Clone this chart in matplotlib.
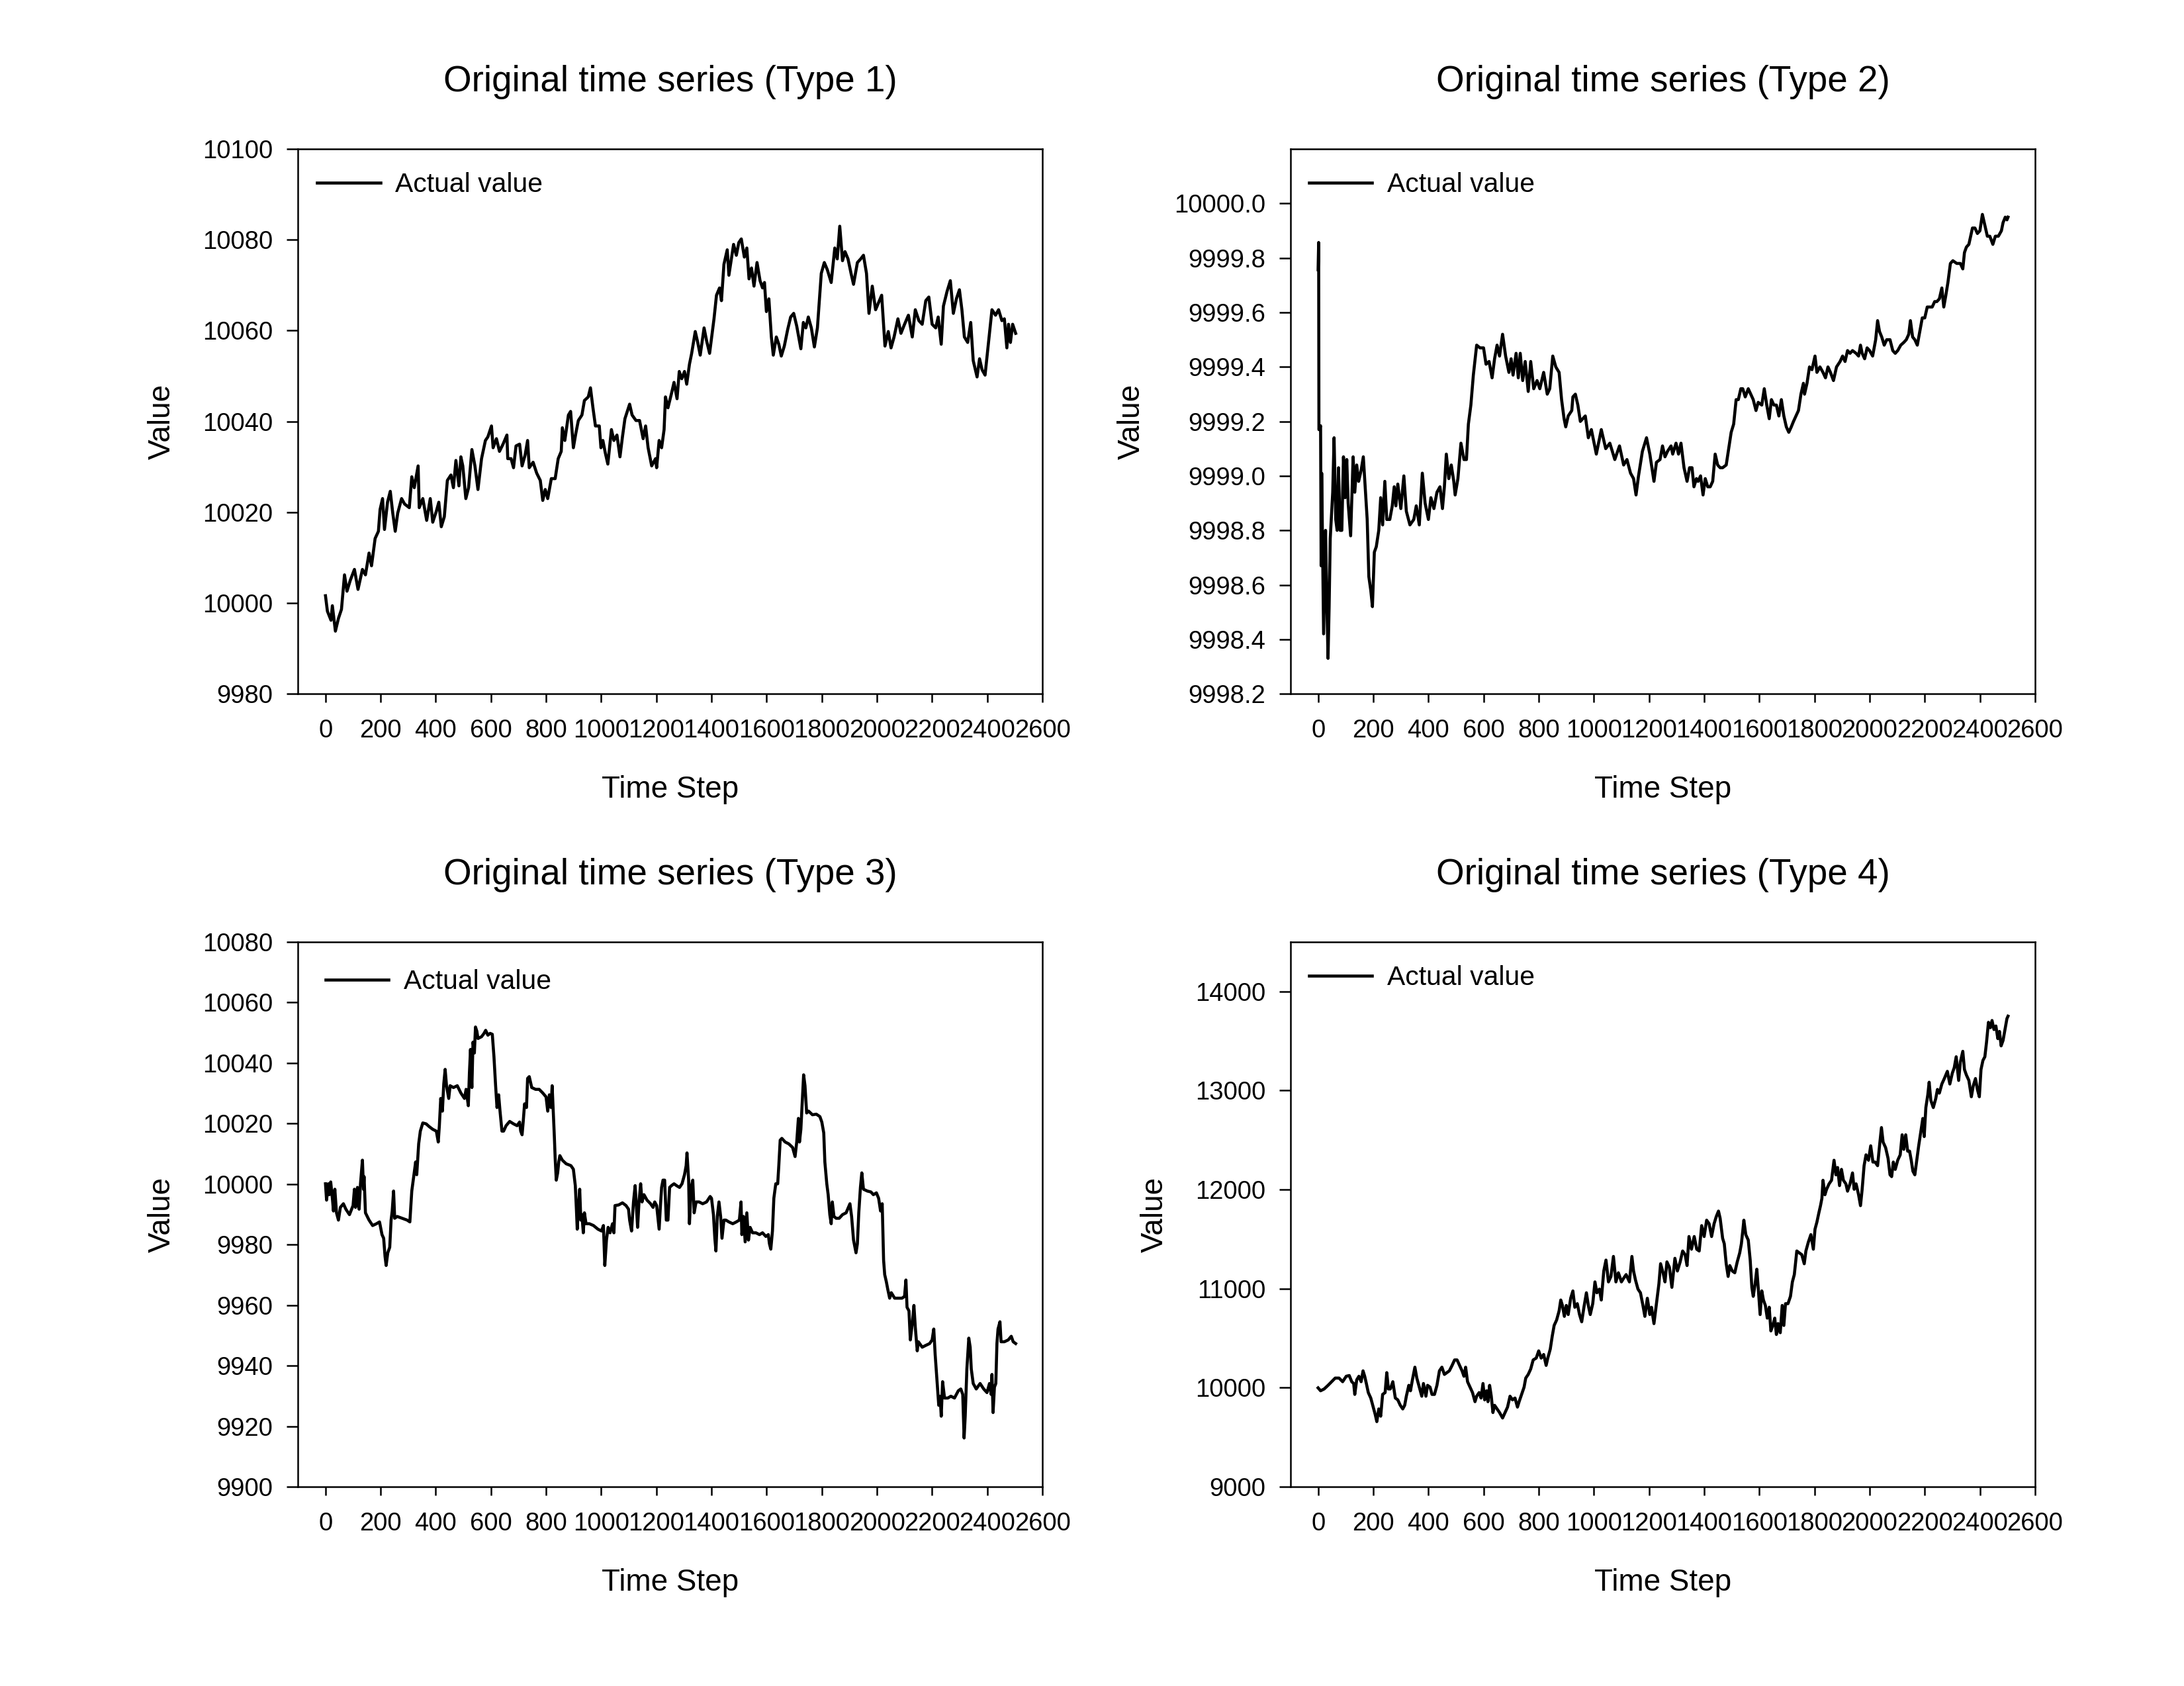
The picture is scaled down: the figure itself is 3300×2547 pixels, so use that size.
import matplotlib
matplotlib.use('Agg')
import matplotlib.pyplot as plt
import numpy as np
from matplotlib.ticker import FormatStrFormatter

plt.rcParams['font.family'] = ['Liberation Sans', 'DejaVu Sans']

# (time step, value)
type1 = [(0, 10001.6), (7, 9998.2), (20, 9996.2), (25, 9999.4), (36, 9993.8), (47, 9996.6), (58, 9998.6),
         (69, 10006.2), (78, 10002.6), (90, 10005.0), (105, 10007.4), (118, 10003.0), (134, 10007.4),
         (145, 10006.2), (158, 10011.0), (167, 10008.2), (180, 10014.2), (192, 10015.8), (198, 10020.6),
         (207, 10023.0), (214, 10016.2), (225, 10022.2), (235, 10024.6), (244, 10019.8), (253, 10015.8),
         (262, 10019.8), (276, 10023.0), (287, 10021.8), (304, 10021.0), (313, 10027.8), (322, 10025.4),
         (336, 10030.2), (340, 10021.0), (353, 10023.0), (367, 10018.2), (380, 10023.0), (389, 10017.8),
         (402, 10020.2), (411, 10022.2), (420, 10016.8), (431, 10019.0), (442, 10027.0), (455, 10028.2),
         (464, 10025.4), (473, 10031.4), (484, 10025.8), (491, 10032.2), (498, 10030.2), (509, 10023.0),
         (519, 10025.4), (531, 10033.8), (542, 10030.2), (553, 10025.0), (566, 10031.8), (580, 10035.8),
         (589, 10036.6), (602, 10039.0), (608, 10034.2), (620, 10036.2), (631, 10033.4), (644, 10035.0),
         (658, 10037.0), (661, 10031.8), (673, 10031.8), (682, 10029.8), (691, 10034.6), (704, 10035.0),
         (713, 10030.2), (724, 10032.6), (733, 10035.8), (739, 10029.8), (753, 10031.0), (766, 10028.6),
         (779, 10027.0), (788, 10022.6), (797, 10025.0), (806, 10023.0), (819, 10027.4), (833, 10027.4),
         (844, 10031.8), (855, 10033.4), (859, 10038.6), (868, 10035.8), (881, 10041.4), (889, 10042.2),
         (899, 10034.2), (908, 10037.4), (917, 10040.2), (930, 10041.4), (939, 10044.6), (953, 10045.4),
         (961, 10047.4), (970, 10043.0), (979, 10039.0), (993, 10039.0), (999, 10034.2), (1006, 10035.8),
         (1015, 10033.0), (1024, 10030.6), (1037, 10038.2), (1046, 10035.8), (1057, 10037.0), (1068, 10032.2),
         (1077, 10036.6), (1086, 10040.6), (1103, 10043.8), (1112, 10041.4), (1126, 10040.2), (1139, 10040.2),
         (1152, 10036.2), (1161, 10039.0), (1170, 10034.2), (1183, 10030.2), (1197, 10031.8), (1201, 10029.8),
         (1210, 10035.8), (1219, 10034.2), (1228, 10038.2), (1233, 10045.4), (1242, 10043.0), (1255, 10046.2),
         (1264, 10048.6), (1275, 10045.0), (1283, 10051.0), (1292, 10049.4), (1302, 10051.0), (1310, 10048.2),
         (1320, 10052.6), (1328, 10055.0), (1341, 10059.8), (1350, 10057.4), (1359, 10054.6), (1373, 10060.6),
         (1382, 10057.8), (1393, 10055.0), (1409, 10062.6), (1418, 10067.8), (1429, 10069.4), (1436, 10066.6),
         (1445, 10074.6), (1457, 10077.8), (1463, 10072.2), (1471, 10075.4), (1480, 10079.0), (1490, 10076.6),
         (1499, 10079.4), (1508, 10080.2), (1519, 10076.2), (1528, 10078.2), (1536, 10071.4), (1545, 10073.8),
         (1554, 10069.8), (1565, 10075.0), (1576, 10071.0), (1585, 10069.4), (1592, 10070.6), (1599, 10064.2),
         (1608, 10067.0), (1617, 10058.6), (1624, 10054.6), (1635, 10058.6), (1644, 10057.0), (1653, 10054.4),
         (1664, 10056.6), (1676, 10060.2), (1687, 10063.0), (1698, 10063.8), (1709, 10061.0), (1724, 10056.0),
         (1733, 10061.8), (1742, 10060.6), (1751, 10063.0), (1762, 10060.6), (1773, 10056.4), (1784, 10060.6),
         (1798, 10072.6), (1809, 10075.0), (1820, 10073.4), (1834, 10070.6), (1847, 10078.2), (1856, 10075.8),
         (1865, 10083.0), (1875, 10075.4), (1884, 10077.4), (1895, 10075.8), (1906, 10072.6), (1915, 10070.2),
         (1929, 10075.0), (1941, 10075.8), (1951, 10076.6), (1962, 10072.6), (1971, 10063.8), (1983, 10069.8),
         (1995, 10064.6), (2006, 10066.2), (2017, 10067.8), (2029, 10056.6), (2041, 10059.8), (2051, 10056.2),
         (2062, 10058.6), (2076, 10062.6), (2087, 10059.4), (2100, 10061.4), (2114, 10063.4), (2128, 10058.6),
         (2139, 10064.6), (2152, 10062.2), (2164, 10061.4), (2177, 10066.6), (2188, 10067.4), (2200, 10061.4),
         (2213, 10060.6), (2222, 10063.0), (2233, 10057.0), (2241, 10065.4), (2254, 10068.6), (2266, 10071.0),
         (2277, 10063.8), (2288, 10067.0), (2299, 10069.0), (2308, 10064.6), (2317, 10058.6), (2329, 10057.4),
         (2340, 10061.8), (2349, 10053.4), (2363, 10049.8), (2372, 10053.8), (2381, 10051.4), (2392, 10050.2),
         (2403, 10056.6), (2417, 10064.6), (2430, 10063.4), (2441, 10064.6), (2453, 10062.2), (2462, 10062.6),
         (2471, 10056.2), (2477, 10061.4), (2484, 10057.4), (2492, 10061.4), (2503, 10059.4)]

type2 = [(0, 9999.757), (2, 9999.857), (3, 9999.17), (9, 9999.184), (11, 9998.67), (13, 9999.01), (20, 9998.42),
         (27, 9998.80), (31, 9998.57), (36, 9998.33), (40, 9998.52), (44, 9998.77), (53, 9998.94), (58, 9999.14),
         (64, 9998.84), (69, 9998.80), (74, 9999.03), (80, 9998.80), (86, 9998.80), (92, 9999.07), (98, 9998.92),
         (104, 9999.06), (109, 9998.90), (118, 9998.78), (127, 9999.07), (133, 9998.94), (140, 9999.04),
         (147, 9998.98), (156, 9999.02), (164, 9999.07), (172, 9998.94), (178, 9998.84), (184, 9998.63),
         (191, 9998.58), (197, 9998.52), (204, 9998.72), (211, 9998.74), (220, 9998.80), (227, 9998.92),
         (234, 9998.82), (242, 9998.98), (249, 9998.84), (260, 9998.84), (269, 9998.89), (276, 9998.96),
         (282, 9998.89), (289, 9998.97), (300, 9998.88), (311, 9999.00), (320, 9998.87), (333, 9998.82),
         (347, 9998.84), (356, 9998.89), (367, 9998.82), (378, 9999.01), (388, 9998.90), (400, 9998.84),
         (409, 9998.92), (420, 9998.88), (431, 9998.94), (442, 9998.96), (451, 9998.88), (458, 9998.96),
         (465, 9999.08), (474, 9998.99), (483, 9999.04), (492, 9998.98), (497, 9998.93), (507, 9998.99),
         (518, 9999.12), (529, 9999.06), (538, 9999.06), (545, 9999.19), (554, 9999.26), (563, 9999.37),
         (575, 9999.48), (587, 9999.47), (600, 9999.47), (609, 9999.41), (620, 9999.42), (631, 9999.36),
         (640, 9999.43), (649, 9999.48), (658, 9999.44), (669, 9999.52), (680, 9999.44), (692, 9999.38),
         (700, 9999.43), (707, 9999.37), (718, 9999.45), (726, 9999.36), (733, 9999.45), (742, 9999.35),
         (751, 9999.42), (762, 9999.31), (771, 9999.42), (782, 9999.32), (794, 9999.35), (804, 9999.32),
         (818, 9999.38), (831, 9999.30), (840, 9999.32), (851, 9999.44), (862, 9999.40), (874, 9999.38),
         (883, 9999.28), (892, 9999.21), (898, 9999.18), (907, 9999.22), (920, 9999.24), (924, 9999.29),
         (933, 9999.30), (942, 9999.26), (951, 9999.20), (969, 9999.22), (980, 9999.14), (991, 9999.17),
         (1009, 9999.08), (1027, 9999.17), (1043, 9999.10), (1058, 9999.12), (1076, 9999.06), (1093, 9999.11),
         (1108, 9999.04), (1120, 9999.06), (1133, 9999.01), (1144, 9998.99), (1153, 9998.93), (1162, 9999.00),
         (1176, 9999.09), (1191, 9999.14), (1203, 9999.08), (1218, 9998.98), (1227, 9999.05), (1240, 9999.06),
         (1249, 9999.11), (1258, 9999.07), (1267, 9999.09), (1280, 9999.11), (1286, 9999.08), (1298, 9999.12),
         (1307, 9999.08), (1316, 9999.12), (1327, 9999.03), (1338, 9998.98), (1347, 9999.03), (1356, 9999.03),
         (1363, 9998.96), (1372, 9998.99), (1378, 9998.98), (1387, 9999.00), (1396, 9998.93), (1404, 9998.99),
         (1413, 9998.96), (1422, 9998.96), (1431, 9998.98), (1440, 9999.08), (1449, 9999.04), (1458, 9999.03),
         (1467, 9999.03), (1480, 9999.04), (1489, 9999.10), (1498, 9999.16), (1507, 9999.19), (1516, 9999.28),
         (1524, 9999.28), (1533, 9999.32), (1540, 9999.32), (1549, 9999.29), (1560, 9999.32), (1569, 9999.30),
         (1578, 9999.28), (1588, 9999.24), (1596, 9999.27), (1609, 9999.26), (1618, 9999.32), (1627, 9999.26),
         (1636, 9999.21), (1644, 9999.28), (1653, 9999.26), (1662, 9999.26), (1671, 9999.22), (1680, 9999.28),
         (1689, 9999.22), (1698, 9999.18), (1707, 9999.16), (1716, 9999.18), (1724, 9999.20), (1733, 9999.22),
         (1742, 9999.24), (1751, 9999.30), (1760, 9999.34), (1764, 9999.30), (1773, 9999.34), (1782, 9999.40),
         (1791, 9999.39), (1802, 9999.44), (1809, 9999.38), (1820, 9999.40), (1831, 9999.38), (1840, 9999.36),
         (1849, 9999.40), (1858, 9999.38), (1869, 9999.35), (1880, 9999.40), (1893, 9999.42), (1902, 9999.44),
         (1911, 9999.42), (1920, 9999.46), (1929, 9999.45), (1938, 9999.46), (1951, 9999.45), (1960, 9999.44),
         (1967, 9999.48), (1973, 9999.45), (1982, 9999.43), (1991, 9999.47), (2000, 9999.46), (2011, 9999.44),
         (2022, 9999.50), (2029, 9999.57), (2036, 9999.53), (2044, 9999.51), (2053, 9999.48), (2062, 9999.50),
         (2074, 9999.50), (2084, 9999.46), (2093, 9999.45), (2102, 9999.46), (2113, 9999.48), (2124, 9999.49),
         (2133, 9999.50), (2142, 9999.52), (2148, 9999.57), (2156, 9999.51), (2164, 9999.50), (2173, 9999.48),
         (2182, 9999.53), (2191, 9999.58), (2200, 9999.58), (2209, 9999.62), (2218, 9999.62), (2227, 9999.62),
         (2236, 9999.64), (2244, 9999.64), (2253, 9999.65), (2262, 9999.69), (2269, 9999.62), (2276, 9999.66),
         (2284, 9999.71), (2293, 9999.78), (2302, 9999.79), (2316, 9999.78), (2329, 9999.78), (2338, 9999.76),
         (2344, 9999.82), (2351, 9999.84), (2360, 9999.85), (2373, 9999.91), (2382, 9999.91), (2391, 9999.89),
         (2400, 9999.90), (2409, 9999.96), (2418, 9999.92), (2427, 9999.88), (2436, 9999.88), (2447, 9999.85),
         (2456, 9999.88), (2467, 9999.88), (2478, 9999.90), (2484, 9999.93), (2492, 9999.95), (2498, 9999.94),
         (2502, 9999.95)]

type3 = [(0, 10000.1), (4, 9994.7), (10, 10000.1), (14, 9996.5), (19, 10000.7), (25, 9995.3), (29, 9991.1),
         (34, 9998.3), (40, 9990.5), (47, 9988.1), (54, 9992.3), (65, 9993.5), (74, 9991.7), (87, 9989.9),
         (100, 9992.9), (105, 9998.3), (109, 9992.3), (116, 9998.9), (122, 9991.7), (127, 10000.1), (134, 10007.9),
         (138, 9998.3), (140, 10002.5), (145, 9990.5), (158, 9988.1), (171, 9986.3), (185, 9986.9), (196, 9987.5),
         (205, 9983.3), (211, 9982.1), (216, 9976.1), (220, 9973.1), (226, 9977.3), (233, 9979.1), (238, 9988.1),
         (242, 9991.1), (247, 9997.7), (251, 9988.7), (260, 9989.3), (278, 9988.7), (296, 9988.1), (306, 9987.5),
         (313, 9997.7), (320, 10002.5), (327, 10007.3), (331, 10003.1), (338, 10013.3), (344, 10017.5),
         (353, 10020.2), (365, 10019.9), (376, 10019.0), (389, 10018.1), (402, 10017.5), (409, 10013.9),
         (413, 10019.3), (418, 10028.3), (424, 10024.1), (429, 10033.1), (434, 10037.9), (439, 10032.5),
         (447, 10028.3), (452, 10032.5), (464, 10031.9), (478, 10032.5), (491, 10030.1), (504, 10028.3),
         (510, 10031.3), (518, 10025.9), (522, 10036.7), (526, 10044.5), (531, 10031.9), (535, 10046.9),
         (540, 10043.3), (544, 10051.9), (549, 10050.5), (553, 10048.1), (566, 10048.7), (575, 10049.8),
         (581, 10050.8), (589, 10049.2), (597, 10049.8), (605, 10049.5), (611, 10042.1), (617, 10032.5),
         (622, 10025.3), (628, 10029.5), (633, 10024.1), (640, 10017.5), (646, 10017.5), (655, 10019.3),
         (668, 10020.7), (682, 10019.9), (695, 10019.3), (704, 10020.5), (708, 10017.5), (713, 10016.3),
         (717, 10020.5), (722, 10026.5), (729, 10025.3), (733, 10034.9), (739, 10035.5), (748, 10031.9),
         (762, 10031.3), (775, 10031.3), (788, 10030.1), (800, 10028.8), (806, 10024.1), (812, 10029.5),
         (818, 10025.3), (822, 10032.5), (826, 10024.1), (830, 10015.7), (833, 10008.5), (837, 10001.3),
         (842, 10003.7), (846, 10007.3), (850, 10009.4), (859, 10007.9), (873, 10006.7), (890, 10006.1),
         (899, 10004.9), (906, 9999.5), (910, 9991.7), (913, 9985.1), (917, 9991.7), (922, 9998.3), (926, 9988.1),
         (930, 9989.9), (935, 9983.9), (939, 9990.5), (945, 9986.9), (957, 9986.9), (972, 9986.3), (988, 9985.1),
         (1001, 9984.5), (1008, 9986.3), (1013, 9973.1), (1019, 9981.5), (1025, 9985.7), (1032, 9983.9),
         (1041, 9986.9), (1046, 9983.9), (1050, 9992.9), (1063, 9993.1), (1077, 9993.8), (1090, 9992.9),
         (1099, 9991.7), (1103, 9988.1), (1110, 9984.5), (1117, 9994.1), (1123, 9999.5), (1128, 9991.7),
         (1132, 9985.7), (1137, 9994.1), (1143, 10000.1), (1148, 9994.1), (1155, 9996.5), (1166, 9994.7),
         (1179, 9993.5), (1188, 9992.3), (1194, 9994.1), (1201, 9992.9), (1210, 9985.1), (1214, 9991.7),
         (1219, 9998.9), (1224, 10001.3), (1230, 10001.3), (1236, 9988.1), (1242, 9988.1), (1248, 9998.9),
         (1255, 9999.5), (1264, 10000.1), (1273, 9999.5), (1284, 9998.9), (1293, 10000.1), (1302, 10003.1),
         (1308, 10006.1), (1311, 10010.3), (1317, 10001.3), (1320, 9986.9), (1326, 9998.9), (1332, 10001.3),
         (1337, 9990.5), (1344, 9994.1), (1355, 9994.1), (1368, 9993.5), (1382, 9994.1), (1395, 9995.9),
         (1400, 9995.3), (1407, 9989.9), (1412, 9982.1), (1416, 9977.9), (1421, 9989.3), (1427, 9994.1),
         (1433, 9989.3), (1438, 9982.1), (1445, 9988.1), (1452, 9988.1), (1463, 9987.5), (1477, 9986.9),
         (1490, 9987.5), (1501, 9988.1), (1507, 9994.1), (1510, 9983.3), (1516, 9989.3), (1522, 9980.9),
         (1528, 9990.5), (1534, 9981.5), (1540, 9985.7), (1549, 9983.9), (1561, 9983.9), (1574, 9983.3),
         (1585, 9983.9), (1597, 9982.7), (1606, 9983.3), (1610, 9980.3), (1615, 9978.5), (1621, 9984.5),
         (1626, 9995.3), (1633, 10000.1), (1640, 10000.1), (1644, 10006.1), (1649, 10014.5), (1655, 10015.1),
         (1667, 10013.9), (1680, 10013.3), (1694, 10012.1), (1703, 10009.1), (1709, 10013.9), (1715, 10021.7),
         (1719, 10013.9), (1724, 10018.1), (1730, 10028.8), (1734, 10036.1), (1739, 10032.5), (1745, 10023.5),
         (1752, 10024.1), (1766, 10022.9), (1780, 10023.1), (1793, 10022.3), (1800, 10020.5), (1807, 10016.9),
         (1811, 10007.3), (1818, 10000.1), (1823, 9996.5), (1829, 9989.9), (1834, 9986.9), (1838, 9994.1),
         (1844, 9989.3), (1852, 9988.7), (1863, 9988.7), (1875, 9989.9), (1888, 9990.5), (1902, 9993.5),
         (1908, 9989.3), (1915, 9981.5), (1924, 9977.3), (1929, 9980.3), (1934, 9990.5), (1940, 9998.9),
         (1945, 10003.7), (1951, 9998.3), (1965, 9997.7), (1978, 9997.4), (1987, 9996.5), (1998, 9997.1),
         (2006, 9995.3), (2013, 9991.1), (2019, 9993.5), (2024, 9974.9), (2028, 9970.1), (2034, 9967.7),
         (2039, 9965.3), (2046, 9962.3), (2052, 9964.1), (2064, 9962.3), (2078, 9962.3), (2091, 9962.3),
         (2100, 9962.9), (2105, 9968.3), (2109, 9959.3), (2116, 9958.1), (2121, 9948.5), (2128, 9953.9),
         (2134, 9959.9), (2139, 9952.7), (2146, 9944.9), (2150, 9947.9), (2164, 9946.1), (2177, 9946.7),
         (2191, 9947.3), (2200, 9948.5), (2206, 9952.1), (2211, 9943.7), (2218, 9934.7), (2224, 9926.9),
         (2229, 9929.9), (2233, 9923.3), (2238, 9934.7), (2245, 9929.3), (2257, 9929.3), (2268, 9929.9),
         (2281, 9929.3), (2295, 9931.7), (2304, 9932.3), (2311, 9930.5), (2316, 9916.1), (2320, 9923.3),
         (2326, 9938.9), (2333, 9949.1), (2338, 9946.1), (2342, 9938.9), (2349, 9934.1), (2360, 9932.3),
         (2374, 9934.1), (2387, 9932.3), (2399, 9931.1), (2408, 9934.1), (2414, 9930.5), (2417, 9937.1),
         (2421, 9924.5), (2426, 9932.9), (2431, 9934.1), (2435, 9947.3), (2439, 9952.1), (2446, 9954.5),
         (2450, 9947.9), (2462, 9947.9), (2476, 9948.5), (2487, 9949.7), (2494, 9947.9), (2503, 9947.3)]

type4 = [(0, 9998), (9, 9968.6), (22, 9987), (36, 10023.5), (49, 10060), (62, 10096.9), (76, 10096.9), (89, 10060),
         (102, 10115.2), (113, 10122.5), (122, 10060), (129, 10042), (133, 9932), (140, 10078.5), (148, 10115.2),
         (156, 10060), (163, 10170), (169, 10115.2), (175, 10042), (182, 9950.4), (191, 9895.4), (200, 9803.8),
         (207, 9730.5), (213, 9657.2), (220, 9785.4), (227, 9712.1), (234, 9932), (243, 9950.4), (249, 10151.9),
         (255, 9987), (262, 9987), (271, 10060), (280, 9895.4), (289, 9877), (298, 9822), (307, 9785.4),
         (314, 9822), (320, 9913.7), (329, 10023.5), (335, 9968.6), (342, 10078.5), (351, 10206.7),
         (358, 10096.9), (367, 10005.3), (376, 9913.7), (382, 10042), (391, 9913.7), (397, 10023.5),
         (406, 10005.3), (413, 9932), (422, 9932), (431, 10023.5), (440, 10170), (449, 10206.7), (458, 10133.6),
         (467, 10151.9), (476, 10170), (486, 10225), (495, 10280.1), (504, 10280.1), (513, 10225), (522, 10170),
         (529, 10115.2), (535, 10206.7), (542, 10060), (551, 10005.3), (560, 9950.4), (569, 9858.6),
         (575, 9913.7), (584, 9950.4), (591, 9895.4), (598, 10042), (604, 9877), (611, 9968.6), (616, 9858.6),
         (622, 10023.5), (628, 9913.7), (634, 9748.8), (640, 9822), (649, 9785.4), (658, 9748.8), (669, 9693.8),
         (678, 9748.8), (687, 9803.8), (696, 9913.7), (705, 9877), (714, 9895.4), (723, 9803.8), (729, 9858.6),
         (738, 9932), (747, 10005.3), (753, 10096.9), (762, 10133.6), (771, 10188.5), (780, 10280.1),
         (791, 10298.6), (800, 10371.6), (809, 10298.6), (818, 10335), (827, 10225), (833, 10298.6),
         (842, 10390.2), (849, 10518.4), (856, 10628.3), (865, 10683.3), (874, 10775), (880, 10885), (886, 10830),
         (893, 10720), (900, 10830), (907, 10738.4), (916, 10903), (924, 10976.5), (931, 10811.6), (940, 10848.3),
         (948, 10738.4), (956, 10665), (964, 10811.6), (973, 10958), (980, 10830), (987, 10738.4),
         (996, 10848.3), (1004, 11068), (1011, 10958), (1020, 10995), (1027, 10885), (1036, 11178), (1044, 11288),
         (1053, 11068), (1062, 11123), (1071, 11325), (1080, 11068), (1089, 11160), (1100, 11068), (1108, 11105),
         (1117, 11141.6), (1129, 11068), (1138, 11325), (1144, 11178), (1151, 11087), (1160, 10995),
         (1169, 10958), (1178, 10830), (1185, 10720), (1194, 10903), (1203, 10738.4), (1209, 10811.6),
         (1218, 10646.7), (1227, 10848.3), (1236, 11050), (1242, 11251.5), (1251, 11160), (1258, 11068),
         (1265, 11270), (1274, 11215), (1283, 11013), (1294, 11306), (1303, 11178), (1313, 11270), (1322, 11380),
         (1331, 11343), (1338, 11233), (1345, 11526), (1354, 11398), (1364, 11526), (1373, 11398), (1382, 11380),
         (1391, 11636), (1400, 11526), (1409, 11691), (1418, 11655), (1427, 11526), (1436, 11655), (1444, 11728),
         (1452, 11783), (1458, 11710), (1467, 11508), (1473, 11453), (1480, 11251), (1487, 11123), (1493, 11233),
         (1502, 11178), (1511, 11160), (1520, 11270), (1529, 11361), (1535, 11453), (1540, 11581), (1544, 11691),
         (1551, 11545), (1560, 11490), (1567, 11288), (1573, 11013), (1578, 10922), (1585, 11050), (1591, 11196),
         (1596, 11013), (1603, 10738), (1609, 10977), (1615, 10885), (1622, 10830), (1629, 10702), (1636, 10812),
         (1642, 10573), (1649, 10628), (1656, 10702), (1662, 10537), (1668, 10647), (1676, 10555), (1683, 10830),
         (1689, 10628), (1695, 10848), (1704, 10848), (1713, 10922), (1720, 11068), (1727, 11142), (1736, 11380),
         (1745, 11361), (1754, 11343), (1763, 11251), (1769, 11380), (1778, 11471), (1787, 11545), (1796, 11398),
         (1802, 11600), (1809, 11673), (1816, 11765), (1822, 11838), (1827, 11911), (1831, 12094), (1838, 11948),
         (1844, 12003), (1853, 12058), (1862, 12094), (1871, 12296), (1878, 12149), (1884, 12223), (1891, 12040),
         (1898, 12204), (1905, 12094), (1914, 12058), (1920, 11984), (1929, 12058), (1938, 12168), (1944, 12003),
         (1951, 12058), (1960, 11948), (1967, 11838), (1973, 12003), (1980, 12241), (1987, 12351), (1996, 12296),
         (2004, 12442), (2012, 12278), (2020, 12278), (2029, 12241), (2036, 12442), (2043, 12626), (2049, 12479),
         (2058, 12424), (2067, 12315), (2074, 12150), (2080, 12131), (2086, 12278), (2093, 12204), (2102, 12296),
         (2111, 12351), (2118, 12553), (2124, 12406), (2131, 12553), (2138, 12388), (2145, 12388), (2151, 12296),
         (2157, 12186), (2164, 12149), (2172, 12315), (2178, 12442), (2187, 12608), (2193, 12718), (2198, 12535),
         (2204, 12828), (2211, 12956), (2216, 13084), (2222, 12901), (2231, 12828), (2240, 12920), (2246, 13011),
         (2253, 12974), (2262, 13066), (2271, 13121), (2282, 13194), (2291, 13066), (2300, 13176), (2307, 13231),
         (2314, 13341), (2323, 13102), (2329, 13286), (2338, 13396), (2344, 13212), (2351, 13157), (2360, 13102),
         (2369, 12937), (2376, 13048), (2384, 13121), (2391, 13011), (2398, 12937), (2404, 13212), (2411, 13304),
         (2418, 13341), (2424, 13487), (2431, 13689), (2438, 13634), (2444, 13707), (2451, 13616), (2458, 13652),
         (2465, 13524), (2471, 13597), (2477, 13451), (2484, 13506), (2491, 13616), (2498, 13726), (2502, 13751)]

series = [type1, type2, type3, type4]
titles = ['Original time series (Type 1)', 'Original time series (Type 2)',
          'Original time series (Type 3)', 'Original time series (Type 4)']
ylims = [(9980, 10100), (9998.2, 10000.2), (9900, 10080), (9000, 14500)]
yticks = [np.arange(9980, 10101, 20), np.arange(9998.2, 10000.05, 0.2),
          np.arange(9900, 10081, 20), np.arange(9000, 14001, 1000)]
xticks = np.arange(0, 2601, 200)

# axes rectangles in figure fractions
rects = [[0.1364, 0.5885, 0.3409, 0.3231], [0.5909, 0.5885, 0.3409, 0.3231],
         [0.1364, 0.1182, 0.3409, 0.3231], [0.5909, 0.1182, 0.3409, 0.3231]]
legend_pos = [(0.026, 0.934), (0.025, 0.934), (0.037, 0.927), (0.025, 0.934)]
ylabel_x = [-0.163, -0.194, -0.163, -0.163]

fig = plt.figure(figsize=(11, 8.49), dpi=300)

for i in range(4):
    ax = fig.add_axes(rects[i])
    t, v = np.array(series[i]).T
    ax.plot(t, v, color='black', lw=1.1, label='Actual value')
    ax.set_xlim(-100, 2600)
    ax.set_ylim(*ylims[i])
    ax.set_xticks(xticks)
    ax.set_yticks(yticks[i])
    if i == 1:
        ax.yaxis.set_major_formatter(FormatStrFormatter('%.1f'))
    else:
        ax.yaxis.set_major_formatter(FormatStrFormatter('%d'))
    for s in ax.spines.values():
        s.set_linewidth(0.6)
    ax.tick_params(axis='x', direction='out', length=3.1, width=0.6, pad=6, labelsize=9.2)
    ax.tick_params(axis='y', direction='out', length=4.0, width=0.6, pad=5, labelsize=9.2)
    ax.set_title(titles[i], fontsize=13.15, pad=21)
    ax.set_xlabel('Time Step', fontsize=11)
    ax.xaxis.set_label_coords(0.5, -0.1495)
    ax.set_ylabel('Value', fontsize=11)
    ax.yaxis.set_label_coords(ylabel_x[i], 0.5)
    ax.legend(loc='center left', bbox_to_anchor=legend_pos[i], frameon=False, fontsize=9.8,
              handlelength=2.33, handletextpad=0.56, borderpad=0, borderaxespad=0)

fig.savefig('out.png', dpi=300)
